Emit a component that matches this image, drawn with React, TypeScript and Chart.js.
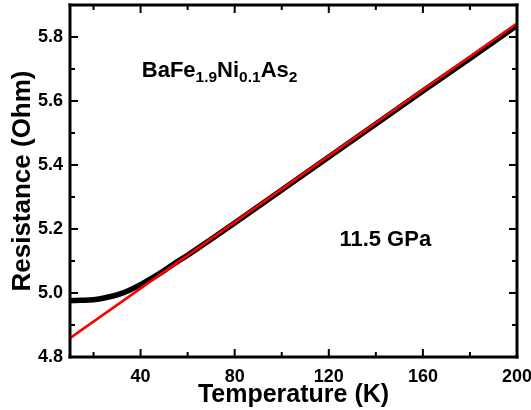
import React, { useEffect, useRef } from "react";
import { Chart, registerables } from "chart.js";

Chart.register(...registerables);

// Measured resistance (black curve)
const temperatureK = [10, 15, 20, 25, 30, 35, 40, 45, 50, 55, 60, 70, 80, 100, 120, 140, 160, 180, 200];
const resistanceOhm = [4.976, 4.977, 4.979, 4.985, 4.994, 5.008, 5.026, 5.047, 5.07, 5.095, 5.118, 5.168, 5.219, 5.322, 5.425, 5.528, 5.631, 5.733, 5.836];

// Linear fit (red line)
const fitTemperatureK = [10, 200];
const fitResistanceOhm = [4.859, 5.842];

// Axis ticks
const xTicks = [40, 80, 120, 160, 200];
const xMinorTicks = [20, 60, 100, 140, 180];
const yTicks = [4.8, 5.0, 5.2, 5.4, 5.6, 5.8];
const yMinorTicks = [4.9, 5.1, 5.3, 5.5, 5.7];

const FONT = "'Liberation Sans', Arial, Helvetica, sans-serif";

const framePlugin = {
  id: "frameAndTicks",
  afterDraw(chart: any) {
    const ctx = chart.ctx;
    const xs = chart.scales.x;
    const ys = chart.scales.y;
    const L = Number(xs.left);
    const R = Number(xs.right);
    const T = Number(ys.top);
    const B = Number(ys.bottom);
    ctx.save();
    ctx.globalAlpha = 1;
    ctx.globalCompositeOperation = "source-over";
    ctx.setLineDash([]);
    ctx.fillStyle = "#000000";
    const major = 8;
    const minor = 5;
    const tw = 2;
    const fw = 3;
    for (const v of xTicks.concat(xMinorTicks)) {
      const len = xTicks.indexOf(v) >= 0 ? major : minor;
      const px = xs.getPixelForValue(v);
      ctx.fillRect(px - tw / 2, B - len, tw, len);
      ctx.fillRect(px - tw / 2, T, tw, len);
    }
    for (const v of yTicks.concat(yMinorTicks)) {
      const len = yTicks.indexOf(v) >= 0 ? major : minor;
      const py = ys.getPixelForValue(v);
      ctx.fillRect(L, py - tw / 2, len, tw);
      ctx.fillRect(R - len, py - tw / 2, len, tw);
    }
    // frame
    ctx.fillRect(L - fw / 2, T - fw / 2, R - L + fw, fw);
    ctx.fillRect(L - fw / 2, B - fw / 2, R - L + fw, fw);
    ctx.fillRect(L - fw / 2, T - fw / 2, fw, B - T + fw);
    ctx.fillRect(R - fw / 2, T - fw / 2, fw, B - T + fw);

    // Annotations
    ctx.textBaseline = "alphabetic";
    ctx.textAlign = "left";
    const parts: [string, boolean][] = [
      ["BaFe", false],
      ["1.9", true],
      ["Ni", false],
      ["0.1", true],
      ["As", false],
      ["2", true],
    ];
    let x = xs.getPixelForValue(40.5);
    const base = ys.getPixelForValue(5.676);
    parts.forEach(([t, sub]) => {
      ctx.font = sub ? `bold 15.5px ${FONT}` : `bold 22px ${FONT}`;
      ctx.fillText(t, x, sub ? base + 5 : base);
      x += ctx.measureText(t).width;
    });
    ctx.font = `bold 22px ${FONT}`;
    ctx.fillText("11.5 GPa", xs.getPixelForValue(124.5), ys.getPixelForValue(5.146));
    ctx.restore();
  },
};

export default function App() {
  const canvasRef = useRef<HTMLCanvasElement | null>(null);

  useEffect(() => {
    const canvas = canvasRef.current;
    if (!canvas) return;
    const chart = new Chart(canvas, {
      type: "line",
      data: {
        datasets: [
          {
            label: "Linear fit",
            data: fitTemperatureK.map((t, i) => ({ x: t, y: fitResistanceOhm[i] })),
            borderColor: "#ff0000",
            borderWidth: 2.5,
            pointRadius: 0,
            order: 0,
          },
          {
            label: "Resistance",
            data: temperatureK.map((t, i) => ({ x: t, y: resistanceOhm[i] })),
            borderColor: "#000000",
            borderWidth: 5.5,
            pointRadius: 0,
            cubicInterpolationMode: "monotone",
            order: 1,
          },
        ],
      },
      options: {
        responsive: false,
        animation: false,
        layout: { padding: { top: 5, right: 14, left: 0, bottom: 0 } },
        plugins: { legend: { display: false }, tooltip: { enabled: false } },
        scales: {
          x: {
            type: "linear",
            min: 10,
            max: 200,
            afterBuildTicks: (s: any) => {
              s.ticks = xTicks.map((v) => ({ value: v }));
            },
            afterFit: (s: any) => {
              s.height = 53;
              s.paddingLeft = 0;
              s.paddingRight = 0;
            },
            grid: { display: false, drawTicks: false },
            border: { display: false },
            ticks: {
              color: "#000",
              padding: 9,
              maxRotation: 0,
              font: { family: FONT, size: 18, weight: "bold" },
            },
            title: {
              display: true,
              text: "Temperature (K)",
              color: "#000",
              padding: { top: 0, bottom: 0 },
              font: { family: FONT, size: 25, weight: "bold" },
            },
          },
          y: {
            type: "linear",
            min: 4.8,
            max: 5.9,
            afterBuildTicks: (s: any) => {
              s.ticks = yTicks.map((v) => ({ value: v }));
            },
            afterFit: (s: any) => {
              s.width = 70;
              s.paddingTop = 0;
              s.paddingBottom = 0;
            },
            grid: { display: false, drawTicks: false },
            border: { display: false },
            ticks: {
              color: "#000",
              padding: 7,
              callback: (v: any) => Number(v).toFixed(1),
              font: { family: FONT, size: 18, weight: "bold" },
            },
            title: {
              display: true,
              text: "Resistance (Ohm)",
              color: "#000",
              padding: { top: 7, bottom: 0 },
              font: { family: FONT, size: 26, weight: "bold" },
            },
          },
        },
      },
      plugins: [framePlugin],
    } as any);
    return () => chart.destroy();
  }, []);

  return (
    <div style={{ position: "absolute", left: 0, top: 0, width: 531, height: 410, background: "#fff" }}>
      <canvas ref={canvasRef} width={531} height={410} />
    </div>
  );
}
